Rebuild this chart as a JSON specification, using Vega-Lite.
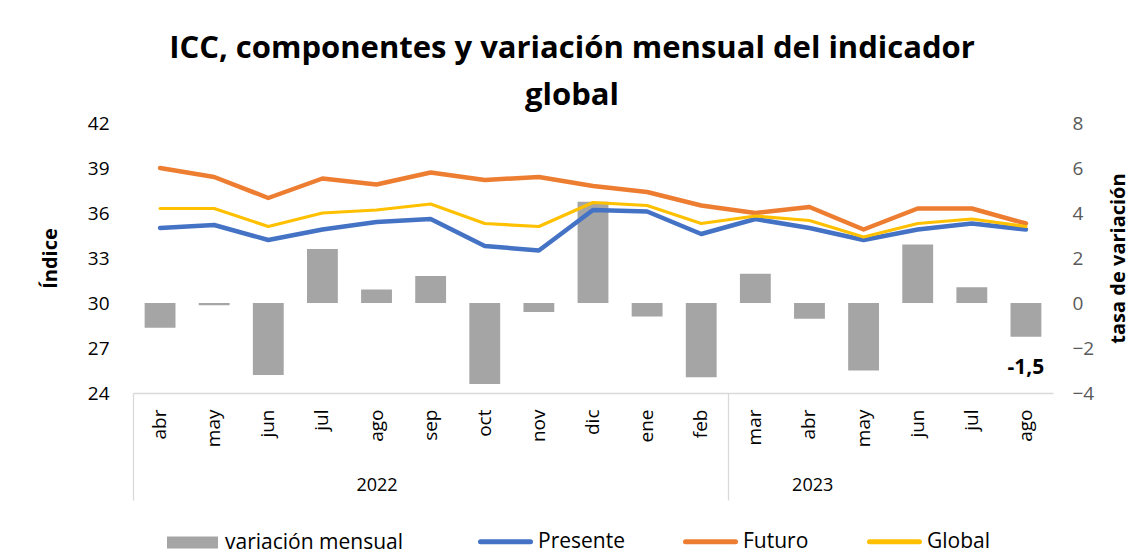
{
  "$schema": "https://vega.github.io/schema/vega-lite/v6.json",
  "width": 920,
  "height": 270,
  "autosize": {"type": "none"},
  "padding": {"left": 133, "top": 123, "right": 78, "bottom": 164},
  "background": "white",
  "config": {"font": "Open Sans", "view": {"stroke": null}},
  "title": {
    "text": ["ICC, componentes y variación mensual del indicador", "global"],
    "fontSize": 31,
    "fontWeight": "bold",
    "color": "#000000",
    "anchor": "middle",
    "frame": "group",
    "baseline": "bottom",
    "lineHeight": 47,
    "offset": 15,
    "dx": -21,
    "dy": 44
  },
  "datasets": {
    "meses": [
      {"periodo": "abr 2022", "presente": 35.0, "futuro": 39.0, "global": 36.3, "variacion": -1.1},
      {"periodo": "may 2022", "presente": 35.2, "futuro": 38.4, "global": 36.3, "variacion": -0.1},
      {"periodo": "jun 2022", "presente": 34.2, "futuro": 37.0, "global": 35.1, "variacion": -3.2},
      {"periodo": "jul 2022", "presente": 34.9, "futuro": 38.3, "global": 36.0, "variacion": 2.4},
      {"periodo": "ago 2022", "presente": 35.4, "futuro": 37.9, "global": 36.2, "variacion": 0.6},
      {"periodo": "sep 2022", "presente": 35.6, "futuro": 38.7, "global": 36.6, "variacion": 1.2},
      {"periodo": "oct 2022", "presente": 33.8, "futuro": 38.2, "global": 35.3, "variacion": -3.6},
      {"periodo": "nov 2022", "presente": 33.5, "futuro": 38.4, "global": 35.1, "variacion": -0.4},
      {"periodo": "dic 2022", "presente": 36.2, "futuro": 37.8, "global": 36.7, "variacion": 4.5},
      {"periodo": "ene 2023", "presente": 36.1, "futuro": 37.4, "global": 36.5, "variacion": -0.6},
      {"periodo": "feb 2023", "presente": 34.6, "futuro": 36.5, "global": 35.3, "variacion": -3.3},
      {"periodo": "mar 2023", "presente": 35.6, "futuro": 36.0, "global": 35.8, "variacion": 1.3},
      {"periodo": "abr 2023", "presente": 35.0, "futuro": 36.4, "global": 35.5, "variacion": -0.7},
      {"periodo": "may 2023", "presente": 34.2, "futuro": 34.9, "global": 34.4, "variacion": -3.0},
      {"periodo": "jun 2023", "presente": 34.9, "futuro": 36.3, "global": 35.3, "variacion": 2.6},
      {"periodo": "jul 2023", "presente": 35.3, "futuro": 36.3, "global": 35.6, "variacion": 0.7},
      {"periodo": "ago 2023", "presente": 34.9, "futuro": 35.3, "global": 35.1, "variacion": -1.5}
    ],
    "grupos": [
      {"anio": "2022", "desde": 0, "hasta": 11},
      {"anio": "2023", "desde": 11, "hasta": 17}
    ]
  },
  "layer": [
    {
      "data": {"name": "meses"},
      "encoding": {
        "x": {
          "field": "periodo",
          "type": "ordinal",
          "sort": null,
          "scale": {"paddingInner": 0.43, "paddingOuter": 0.215},
          "axis": {
            "orient": "bottom",
            "title": null,
            "labelExpr": "split(datum.value, ' ')[0]",
            "labelAngle": -90,
            "labelFontSize": 19,
            "labelColor": "#000000",
            "labelPadding": 16,
            "ticks": false,
            "domainColor": "#d9d9d9",
            "domainWidth": 1.3,
            "grid": false
          }
        }
      },
      "layer": [
        {
          "layer": [
            {
              "mark": {"type": "bar"},
              "encoding": {
                "y": {
                  "field": "variacion",
                  "type": "quantitative",
                  "scale": {"domain": [-4, 8], "nice": false},
                  "axis": {
                    "orient": "right",
                    "values": [-4, -2, 0, 2, 4, 6, 8],
                    "title": "tasa de variación",
                    "titleFontSize": 20,
                    "titleFontWeight": "bold",
                    "titleColor": "#000000",
                    "titleAngle": -90,
                    "titlePadding": 35,
                    "labelFontSize": 19,
                    "labelColor": "#595959",
                    "labelPadding": 19,
                    "ticks": false,
                    "domain": false,
                    "grid": false
                  }
                },
                "fill": {
                  "datum": "variación mensual",
                  "type": "nominal",
                  "scale": {"domain": ["variación mensual"], "range": ["#A5A5A5"]},
                  "legend": {
                    "title": null,
                    "orient": "none",
                    "legendX": 34,
                    "legendY": 394,
                    "symbolType": "M-1,-0.235H1V0.235H-1Z",
                    "symbolSize": 2601,
                    "symbolStrokeWidth": 0,
                    "labelFontSize": 21,
                    "labelLimit": 400,
                    "labelColor": "#000000",
                    "labelOffset": 7
                  }
                }
              }
            },
            {
              "transform": [{"filter": "datum.periodo === 'ago 2023'"}],
              "mark": {"type": "text", "fontSize": 21, "fontWeight": "bold", "color": "#000000", "dy": 31},
              "encoding": {
                "y": {"field": "variacion", "type": "quantitative"},
                "text": {"value": "-1,5"}
              }
            }
          ]
        },
        {
          "layer": [
            {
              "mark": {"type": "line", "strokeWidth": 4.5, "strokeCap": "round", "strokeJoin": "round"},
              "encoding": {
                "y": {
                  "field": "presente",
                  "type": "quantitative",
                  "scale": {"domain": [24, 42], "nice": false, "zero": false},
                  "axis": {
                    "orient": "left",
                    "values": [24, 27, 30, 33, 36, 39, 42],
                    "title": "Índice",
                    "titleFontSize": 20,
                    "titleFontWeight": "bold",
                    "titleColor": "#000000",
                    "titlePadding": 27,
                    "labelFontSize": 19,
                    "labelColor": "#000000",
                    "labelPadding": 24,
                    "ticks": false,
                    "domain": false,
                    "grid": false
                  }
                },
                "stroke": {
                  "datum": "Presente",
                  "type": "nominal",
                  "scale": {"domain": ["Presente", "Futuro", "Global"], "range": ["#4472C4", "#ED7D31", "#FFC000"]},
                  "legend": {
                    "title": null,
                    "orient": "none",
                    "direction": "horizontal",
                    "legendX": 345,
                    "legendY": 391,
                    "symbolType": "stroke",
                    "symbolSize": 2500,
                    "symbolStrokeWidth": 5,
                    "labelFontSize": 21,
                    "labelLimit": 400,
                    "labelColor": "#000000",
                    "labelOffset": 5,
                    "columnPadding": 50,
                    "encode": {"symbols": {"update": {"strokeCap": {"value": "round"}}}}
                  }
                }
              }
            },
            {
              "mark": {"type": "line", "strokeWidth": 4.5, "strokeCap": "round", "strokeJoin": "round"},
              "encoding": {
                "y": {"field": "futuro", "type": "quantitative"},
                "stroke": {"datum": "Futuro", "type": "nominal"}
              }
            },
            {
              "mark": {"type": "line", "strokeWidth": 3.2, "strokeCap": "round", "strokeJoin": "round"},
              "encoding": {
                "y": {"field": "global", "type": "quantitative"},
                "stroke": {"datum": "Global", "type": "nominal"}
              }
            }
          ]
        }
      ],
      "resolve": {"scale": {"y": "independent"}, "axis": {"y": "independent"}}
    },
    {
      "data": {"name": "grupos"},
      "mark": {"type": "rule", "opacity": 0},
      "encoding": {
        "x": {
          "field": "desde",
          "type": "quantitative",
          "scale": {"domain": [0, 17], "nice": false, "zero": false},
          "axis": {
            "orient": "bottom",
            "title": null,
            "values": [0, 11],
            "labels": false,
            "tickSize": 107,
            "tickColor": "#d9d9d9",
            "tickWidth": 1.3,
            "domain": false,
            "grid": false
          }
        }
      }
    },
    {
      "data": {"name": "grupos"},
      "mark": {"type": "rule", "opacity": 0},
      "encoding": {
        "x": {
          "field": "hasta",
          "type": "quantitative",
          "scale": {"domain": [0, 17], "nice": false, "zero": false},
          "axis": {
            "orient": "bottom",
            "title": null,
            "values": [4.5, 12.55],
            "labelExpr": "datum.value < 11 ? '2022' : '2023'",
            "labelFontSize": 18,
            "labelColor": "#000000",
            "labelBaseline": "middle",
            "ticks": false,
            "tickSize": 0,
            "labelPadding": 92,
            "domain": false,
            "grid": false
          }
        }
      }
    }
  ],
  "resolve": {"scale": {"x": "independent", "y": "independent"}, "axis": {"x": "independent", "y": "independent"}}
}
